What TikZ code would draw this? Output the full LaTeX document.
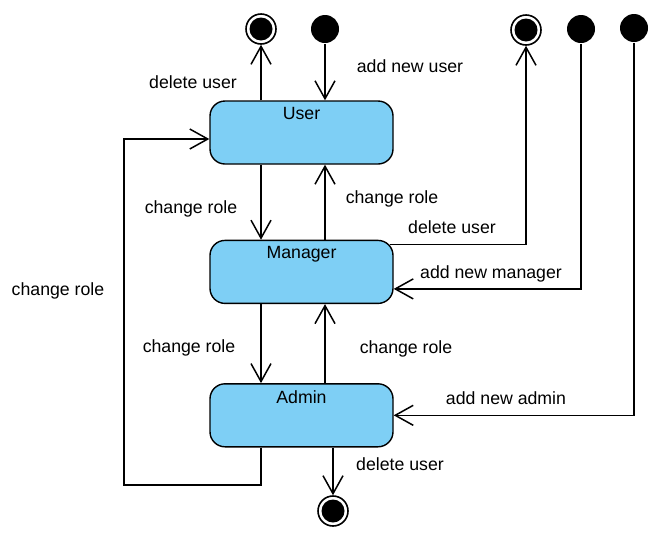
\documentclass[tikz,border=0pt]{standalone}
\usepackage{fontspec}
\setmainfont{Liberation Sans}
\usetikzlibrary{arrows.meta,positioning}

\definecolor{stateblue}{RGB}{126,207,245}

\tikzset{
  st/.style={rectangle,rounded corners=15pt,draw,line width=1.4pt,fill=stateblue,
             minimum width=183pt,minimum height=63pt},
  fin/.style={circle,draw,line width=1.6pt,minimum size=30pt,inner sep=0pt,
              path picture={\fill (path picture bounding box.center) circle (11.5pt);}},
  ini/.style={circle,fill,minimum size=28pt,inner sep=0pt},
  lbl/.style={text height=12.7pt,text depth=3.7pt,inner sep=0pt,yshift=-2pt}
}

\begin{document}
\begin{tikzpicture}[x=1pt,y=-1pt,>={Straight Barb[length=18pt,width=20pt]},
                    line width=1.5pt,font=\fontsize{17.7pt}{21pt}\selectfont]

    \useasboundingbox (0,0) rectangle (663,555);

    % states
    \node[st,label={[anchor=north,yshift=-3pt]north:User}] (usr) at (301.5,132.5) {};
    \node[st,label={[anchor=north,yshift=-3pt]north:Manager}] (mgr) [below=75pt of usr] {};
    \node[st,label={[anchor=north,yshift=-3pt]north:Admin}] (adm) [below=79pt of mgr] {};

    % start and end points
    \node[fin] (fu) at (261,29) {};
    \node[ini] (iu) at (325,29) {};
    \node[fin] (fm) at (526,30) {};
    \node[ini] (im) at (581,29) {};
    \node[ini] (ia) at (634,28) {};
    \node[fin] (fa) at (333,511) {};

    \coordinate (lp) at (124,485);

    % labels
    \node[lbl] (dlu) at (193,82) {delete user};
    \node[lbl] (anu) at (410,66) {add new user};
    \node[lbl] (cum) at (191,207) {change role};
    \node[lbl] (cmu) at (392,197) {change role};
    \node[lbl] (dlm) at (452,227) {delete user};
    \node[lbl] (anm) at (491,272) {add new manager};
    \node[lbl] (cma) at (189,346) {change role};
    \node[lbl] (cam) at (406,347) {change role};
    \node[lbl] (cau) at (58,289) {change role};
    \node[lbl] (ana) at (506,398) {add new admin};
    \node[lbl] (dla) at (400,464) {delete user};

    % transitions
    \draw[->] (usr.north -| fu) -- (fu);
    \draw[->] (iu) -- (usr.north -| iu);
    \draw[->] (usr.south -| fu) -- (mgr.north -| fu);
    \draw[->] (mgr.north -| iu) -- (usr.south -| iu);
    \draw[->] (mgr.south -| fu) -- (adm.north -| fu);
    \draw[->] (adm.north -| iu) -- (mgr.south -| iu);
    \draw[->] ([xshift=-4pt,yshift=-5pt]mgr.north east) -| (fm);
    \draw[->] (im) |- ([yshift=-17pt]mgr.east);
    \draw[->] (ia) |- (adm.east);
    \draw[->] (adm.south -| fa) -- (fa);
    \draw[->] (adm.south -| fu) |- (lp) |- ([yshift=-6.5pt]usr.west);

\end{tikzpicture}
\end{document}
